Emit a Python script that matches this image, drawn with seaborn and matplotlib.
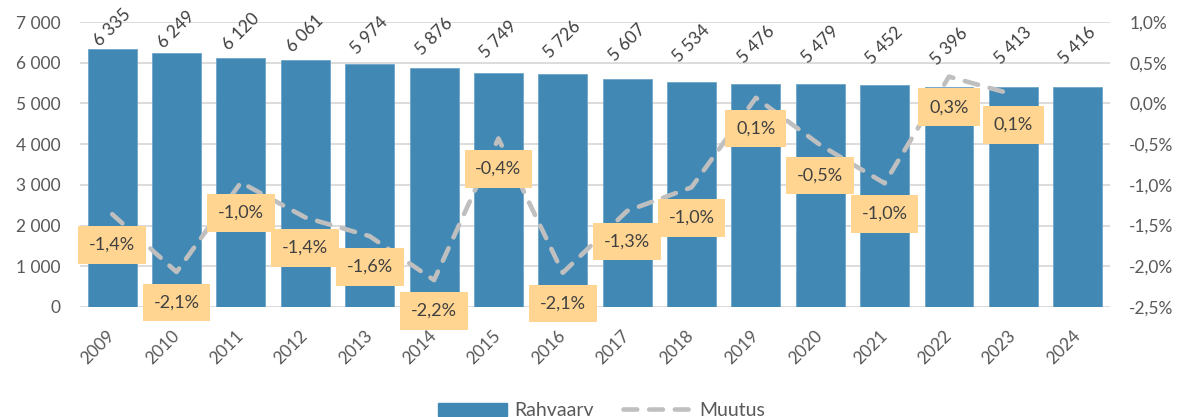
import matplotlib

matplotlib.use("Agg")

import matplotlib.pyplot as plt
import numpy as np
import pandas as pd
import seaborn as sns
from matplotlib.lines import Line2D
from matplotlib.patches import Patch

years = [str(y) for y in range(2009, 2025)]
population = [6335, 6249, 6120, 6061, 5974, 5876, 5749, 5726,
              5607, 5534, 5476, 5479, 5452, 5396, 5413, 5416]
# yearly change in %, last year has no value
change_years = years[:-1]
change = [-1.36, -2.07, -0.97, -1.40, -1.63, -2.17, -0.43, -2.08,
          -1.32, -1.03, 0.07, -0.51, -0.98, 0.33, 0.11]

left_ticks = [0, 1000, 2000, 3000, 4000, 5000, 6000, 7000]
right_ticks = [-2.5, -2.0, -1.5, -1.0, -0.5, 0.0, 0.5, 1.0]

BAR_COLOR = "#4189B4"
LINE_COLOR = "#BFBFBF"
BOX_COLOR = "#FFD591"
TEXT_COLOR = "#404040"
TICK_COLOR = "#595959"
GRID_COLOR = "#D9D9D9"
DASH = (0, (3, 2.6))
Y_MAX = 7000

sns.set_theme(style="white")
plt.rcParams["font.family"] = ["Lato", "DejaVu Sans"]


def fmt_thousands(v):
    return f"{int(v):,}".replace(",", " ")


def fmt_pct(v):
    return f"{v:.1f}".replace(".", ",") + "%"


df = pd.DataFrame({"year": years, "population": population})

fig = plt.figure(figsize=(11.82, 4.17), dpi=100)
ax = fig.add_axes([0.0677, 0.2638, 0.8713, 0.6832])

sns.barplot(data=df, x="year", y="population", color=BAR_COLOR, saturation=1,
            width=0.76, edgecolor="#6FA6C8", linewidth=0.6, ax=ax, zorder=2)

ax.set_xlim(-0.5, len(years) - 0.5)
ax.set_ylim(0, Y_MAX)
ax.set_yticks(left_ticks)
ax.set_yticklabels([fmt_thousands(t) for t in left_ticks])
ax.set_xlabel("")
ax.set_ylabel("")
ax.yaxis.grid(True, color=GRID_COLOR, linewidth=1.3, zorder=0)
ax.set_axisbelow(True)
for s in ax.spines.values():
    s.set_visible(False)
ax.tick_params(axis="y", length=0, pad=14, labelsize=12.5, labelcolor=TICK_COLOR)
ax.tick_params(axis="x", length=0, pad=19, labelsize=12.5, labelcolor=TICK_COLOR,
               labelrotation=45)
for lbl in ax.get_xticklabels():
    lbl.set_ha("right")
    lbl.set_va("center")
    lbl.set_rotation_mode("anchor")

# value labels above bars, rotated 45 deg, placed in data coords of the bar axis
top = max(population)
for i, v in enumerate(population):
    fig.text(i, 6855 + 0.48 * (v - top), fmt_thousands(v), transform=ax.transData,
             rotation=45, rotation_mode="anchor", ha="center", va="center",
             fontsize=12.5, color=TEXT_COLOR)

ax2 = ax.twinx()
sns.lineplot(x=np.arange(len(change_years)), y=change, ax=ax2, color=LINE_COLOR,
             linewidth=3.3, linestyle=DASH, dash_capstyle="round")
ax2.set_ylim(-2.5, 1.0)
ax2.set_yticks(right_ticks)
ax2.set_yticklabels([fmt_pct(t) for t in right_ticks])
ax2.set_ylabel("")
for s in ax2.spines.values():
    s.set_visible(False)
ax2.tick_params(axis="y", length=0, pad=14, labelsize=12.5, labelcolor=TICK_COLOR)

for i, v in enumerate(change):
    ax2.annotate(fmt_pct(v), xy=(i, v), xytext=(0, -22), textcoords="offset points",
                 ha="center", va="center", fontsize=13, color=TEXT_COLOR,
                 bbox=dict(boxstyle="square,pad=0.6", fc=BOX_COLOR, ec="none"))

handles = [
    Patch(color=BAR_COLOR, label="Rahvaarv"),
    Line2D([], [], color=LINE_COLOR, linewidth=3.3, linestyle=DASH,
           dash_capstyle="round", label="Muutus"),
]
fig.legend(handles=handles, loc="center", bbox_to_anchor=(0.509, 0.015), ncol=2,
           frameon=False, fontsize=14, handlelength=3.5, handletextpad=0.4,
           columnspacing=1.5, labelcolor=TICK_COLOR)

fig.savefig("out.png", dpi=100)
